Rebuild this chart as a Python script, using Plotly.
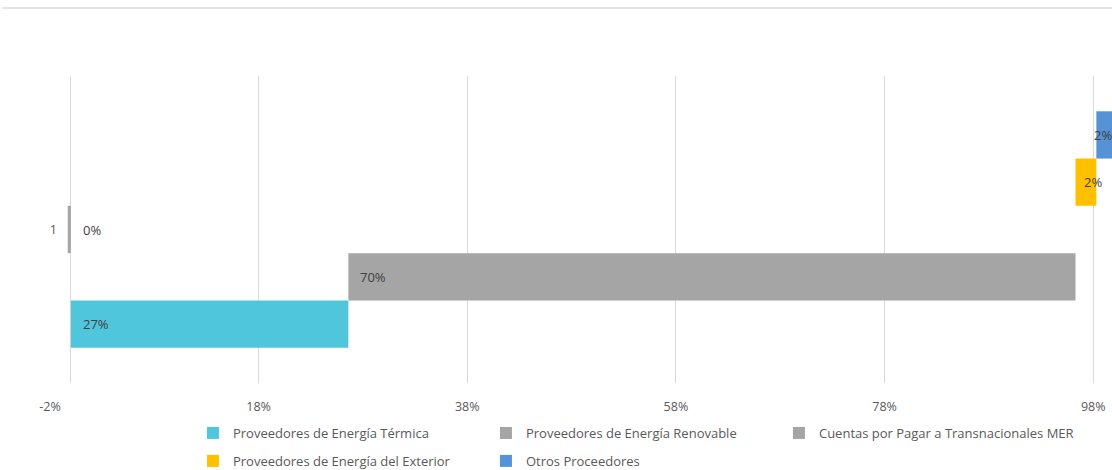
import plotly.graph_objects as go

categories = ["1"]
series_names = [
    "Proveedores de Energía Térmica",
    "Proveedores de Energía Renovable",
    "Cuentas por Pagar a Transnacionales MER",
    "Proveedores de Energía del Exterior",
    "Otros Proceedores",
]
series_values = [0.266, 0.697, -0.003, 0.02, 0.017]
series_colors = ["#50C6DC", "#A5A5A5", "#A5A5A5", "#FFC000", "#5593D6"]
x_tick_values = [-0.02, 0.18, 0.38, 0.58, 0.78, 0.98]
x_tick_labels = [f"{int(round(v * 100))}%" for v in x_tick_values]

# waterfall-like bases: Cuentas (index 2) starts at 0, the rest accumulate
bases = [
    0.0,
    series_values[0],
    0.0,
    series_values[0] + series_values[1],
    series_values[0] + series_values[1] + series_values[3],
]

FONT = "Open Sans"
TXT = "#595959"
BARGAP = 0.23
label_xshift = [10, 10, 10, 7, -4]
legend_of = ["legend", "legend", "legend3", "legend2", "legend2"]

fig = go.Figure()
for i, (name, v, c, b) in enumerate(zip(series_names, series_values, series_colors, bases)):
    fig.add_trace(go.Bar(
        name=name, y=categories, x=[v], base=[b], orientation="h",
        marker=dict(color=c, line=dict(width=0)),
        legend=legend_of[i],
        hoverinfo="skip",
    ))

annotations = []
n = len(series_values)
group_w = 1 - BARGAP
for i, (v, b) in enumerate(zip(series_values, bases)):
    label = f"{int(round(v * 100))}%"
    yoff = -group_w / 2 + group_w / n * (i + 0.5)
    annotations.append(dict(x=b, y=yoff, xref="x", yref="y", text=label,
                            showarrow=False, xanchor="left", xshift=label_xshift[i],
                            font=dict(family=FONT, size=13, color="#404040")))

legend_font = dict(family=FONT, size=13, color=TXT)
common_legend = dict(orientation="h", xanchor="left", yanchor="top",
                     font=legend_font, bgcolor="rgba(0,0,0,0)")

fig.update_layout(
    width=1112, height=470,
    margin=dict(l=50, r=0, t=76, b=87, autoexpand=False),
    paper_bgcolor="white", plot_bgcolor="white",
    barmode="group", bargap=BARGAP, bargroupgap=0,
    font=dict(family=FONT, size=12, color=TXT),
    annotations=annotations,
    xaxis=dict(
        range=[-0.02, 0.998], tickvals=x_tick_values, ticktext=x_tick_labels,
        showgrid=True, gridcolor="#D9D9D9", gridwidth=1,
        zeroline=True, zerolinecolor="#D9D9D9", zerolinewidth=1,
        showline=False, ticks="", ticklabelstandoff=14,
        tickfont=dict(family=FONT, size=12.5, color=TXT),
    ),
    yaxis=dict(
        type="category", range=[-0.5, 0.5], anchor="free", position=0.0198,
        showgrid=False, zeroline=False, showline=False, ticks="",
        ticklabelstandoff=14,
        tickfont=dict(family=FONT, size=12.5, color=TXT),
    ),
    legend=dict(x=0.1346, y=-0.114, entrywidth=248, entrywidthmode="pixels", **common_legend),
    legend3=dict(x=0.1346 + 2 * 293 / 1062, y=-0.114, **common_legend),
    legend2=dict(x=0.1346, y=-0.205, entrywidth=248, entrywidthmode="pixels", **common_legend),
    shapes=[dict(type="line", xref="paper", yref="paper", x0=-0.045, x1=1.0,
                 y0=1.2215, y1=1.2215, line=dict(color="#E3E3E3", width=2))],
    showlegend=True,
)

fig.write_html("out.html")
